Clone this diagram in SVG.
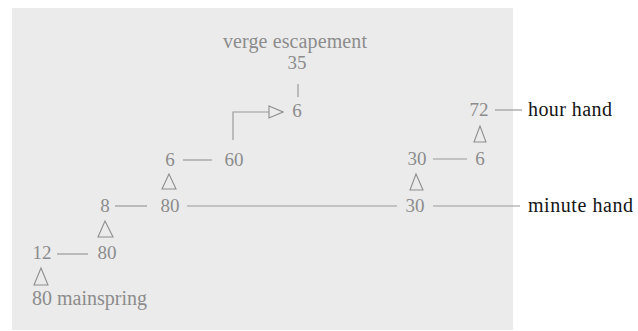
<svg xmlns="http://www.w3.org/2000/svg" width="638" height="331" viewBox="0 0 638 331">
  <style>
    .t { font-family: "Liberation Serif", "Times New Roman", serif; font-size: 19px; fill: #8c8c8c; }
    .l { font-family: "Liberation Serif", "Times New Roman", serif; font-size: 20px; fill: #8c8c8c; }
    .m { text-anchor: middle; }
    .k { font-family: "Liberation Serif", "Times New Roman", serif; font-size: 20px; fill: #151515; }
    .c { stroke: #9a9a9a; stroke-width: 1.2; fill: none; }
    .tri { stroke: #8e8e8e; stroke-width: 1.1; fill: none; stroke-linejoin: miter; }
  </style>
  <defs>
    <marker id="arr" viewBox="0 0 16 14" refX="15" refY="7" markerWidth="16" markerHeight="14" markerUnits="userSpaceOnUse" orient="auto">
      <path d="M1,1 L15,7 L1,13 Z" fill="#ebebeb" stroke="#8e8e8e" stroke-width="1.1"/>
    </marker>
  </defs>
  <rect x="0" y="0" width="638" height="331" fill="#ffffff"/>
  <rect x="12" y="8" width="501" height="322" fill="#ebebeb"/>

  <g id="connectors">
    <line class="c" x1="298" y1="84" x2="298" y2="97"/>
    <path class="c" d="M233,140 L233,112 L283,112" marker-end="url(#arr)"/>
    <line class="c" x1="183" y1="160" x2="212" y2="160"/>
    <line class="c" x1="115" y1="206" x2="147" y2="206"/>
    <line class="c" x1="187" y1="206" x2="397" y2="206"/>
    <line class="c" x1="433" y1="206" x2="520" y2="206"/>
    <line class="c" x1="57" y1="254" x2="88" y2="254"/>
    <line class="c" x1="495" y1="110" x2="522" y2="110"/>
    <line class="c" x1="433" y1="159" x2="467" y2="159"/>
    <polygon class="tri" points="169,174 162,189 176,189"/>
    <polygon class="tri" points="105,221 98,237 113,237"/>
    <polygon class="tri" points="41,268 34,285 48,285"/>
    <polygon class="tri" points="480,126 474,142 486,142"/>
    <polygon class="tri" points="416,174 410,190 423,190"/>
  </g>

  <g id="verge-escapement"><text class="l m" x="295" y="48" textLength="144">verge escapement</text></g>
  <g id="n35"><text class="t m" x="297" y="69">35</text></g>
  <g id="n6-escape"><text class="t m" x="297" y="117">6</text></g>
  <g id="n6-left"><text class="t m" x="170" y="166">6</text></g>
  <g id="n60"><text class="t m" x="234" y="166">60</text></g>
  <g id="n8"><text class="t m" x="105" y="212">8</text></g>
  <g id="n80-mid"><text class="t m" x="170" y="212">80</text></g>
  <g id="n30-minute"><text class="t m" x="415" y="212">30</text></g>
  <g id="minute-hand"><text class="k" x="528" y="212" textLength="105">minute hand</text></g>
  <g id="n12"><text class="t m" x="42" y="259">12</text></g>
  <g id="n80-low"><text class="t m" x="107" y="259">80</text></g>
  <g id="mainspring"><text class="l" x="32" y="305" textLength="115">80 mainspring</text></g>
  <g id="n72"><text class="t m" x="479" y="116">72</text></g>
  <g id="hour-hand"><text class="k" x="528" y="116" textLength="84">hour hand</text></g>
  <g id="n30-hour"><text class="t m" x="417" y="165">30</text></g>
  <g id="n6-hour"><text class="t m" x="480" y="165">6</text></g>
</svg>
